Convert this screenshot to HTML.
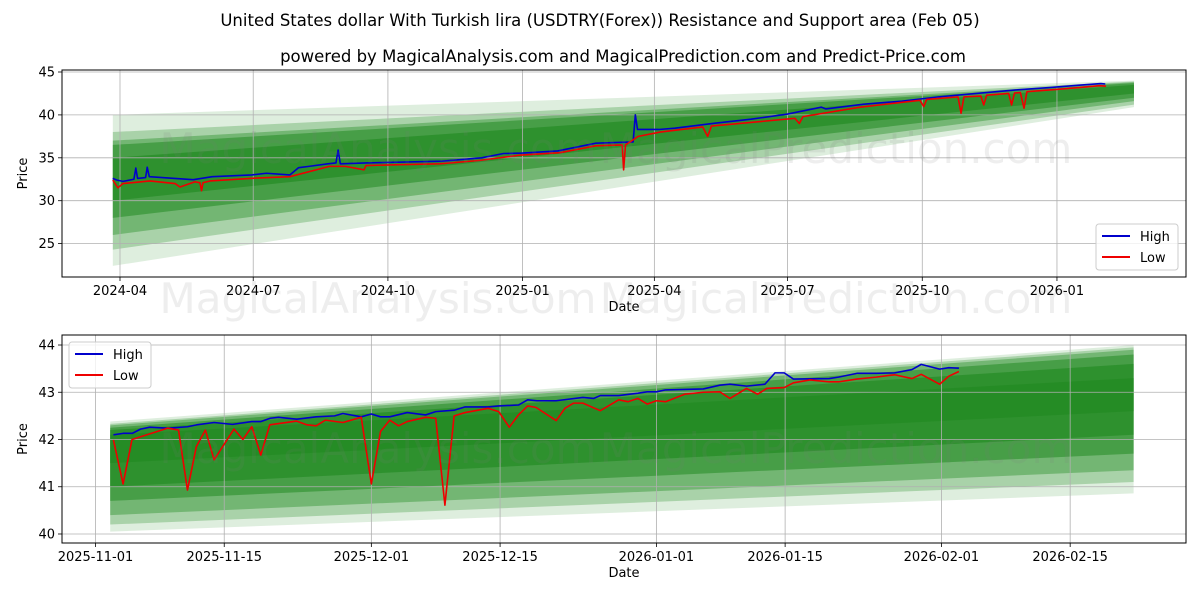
<!DOCTYPE html>
<html><head><meta charset="utf-8"><style>
body{margin:0;background:#fff;}
svg text{font-family:"DejaVu Sans","Liberation Sans",sans-serif;}
</style></head><body>
<svg id="chart" width="1200" height="600" viewBox="0 0 1200 600" xmlns="http://www.w3.org/2000/svg">
<rect width="1200" height="600" fill="#fff"/>
<text x="600" y="26" text-anchor="middle" font-size="16.5">United States dollar With Turkish lira (USDTRY(Forex)) Resistance and Support area (Feb 05)</text>
<text x="623" y="62" text-anchor="middle" font-size="16.5">powered by MagicalAnalysis.com and MagicalPrediction.com and Predict-Price.com</text>
<g id="top"></g><g id="bot"></g>
</svg>
<script>
// ---- top chart data (day offset from 2024-04-01) ----
const topXTickDays=[0,91,183,275,365,456,548,640];
const topXTickLabels=["2024-04","2024-07","2024-10","2025-01","2025-04","2025-07","2025-10","2026-01"];
const topYTicks=[25,30,35,40,45];
const topHighDays=[-5,-2,2,9.5,10.8,12,17.5,18.6,20,50,63,90,100,116,122,129,142,147.5,149,150.5,168,194,220,247,262,275,299,325,350.5,352,353.5,368,379,405,431,456,479,482,508,534,559,585,611,636,654,670,673];
const topHighVals=[32.6,32.4,32.25,32.5,33.8,32.6,32.7,33.9,32.8,32.45,32.8,33.0,33.2,33.0,33.85,34.0,34.3,34.4,35.9,34.3,34.4,34.5,34.6,35.0,35.5,35.55,35.8,36.7,36.85,40.0,38.3,38.3,38.45,39.0,39.5,40.1,40.9,40.7,41.25,41.6,42.1,42.5,42.9,43.2,43.45,43.65,43.6];
const topLowDays=[-4.9,-1.4,2,20.5,37.6,41,51,54.6,55.7,56.7,61.5,88.8,116,143,154,166.7,168,191,218.6,246,273,300.5,325,343,344,345.3,354,369,398,401.4,404,461,464,466.5,505.5,546.4,549,551,572.4,574.5,576.5,588,590,592,607,609,611,615,617.5,619.5,642,656,669,673.5];
const topLowVals=[32.4,31.5,32.0,32.3,32.0,31.6,32.2,32.1,31.16,32.1,32.3,32.6,32.8,34.0,34.0,33.6,34.1,34.2,34.3,34.7,35.3,35.6,36.4,36.5,33.6,36.5,37.5,38.0,38.6,37.5,38.7,39.6,39.0,39.8,40.9,41.7,40.97,41.8,42.1,40.2,42.1,42.2,41.16,42.3,42.5,41.16,42.55,42.6,40.78,42.7,43.0,43.2,43.4,43.35];
const topBandStartDay=-4.9, topBandEndDay=692.6;
const topBandTopStart=[40,38,37,36.5,35];
const topBandTopEnd=[44.0,43.9,43.8,43.7,43.5];
const topBandBotStart=[22.4,24.3,26,28,30];
const topBandBotEnd=[40.9,41.2,41.6,42.0,42.5];
const topBandAlpha=[0.15,0.28,0.4,0.55,0.65];
// ---- bottom chart data (day offset from 2025-11-01) ----
const botXTickDays=[0,14,30,44,61,75,92,106];
const botXTickLabels=["2025-11-01","2025-11-15","2025-12-01","2025-12-15","2026-01-01","2026-01-15","2026-02-01","2026-02-15"];
const botYTicks=[40,41,42,43,44];
const botHighDays=[1.95,3,4,4.9,5.9,7.9,10,11,12.9,14.9,17,18,19,19.9,21.9,24,26,26.9,28.9,30,31,32,33.9,35.9,37,39,40.2,42.7,43.85,46,47,48,50.1,53,54.2,54.9,56.9,59,60,61,62,66.1,67.9,69,70.8,72.8,73.9,74.9,75.9,79.8,80.8,82.8,84.9,86.9,88.8,89.8,91.8,92.8,93.9];
const botHighVals=[42.1,42.13,42.13,42.22,42.26,42.24,42.27,42.31,42.36,42.32,42.38,42.38,42.45,42.47,42.43,42.48,42.5,42.55,42.48,42.54,42.48,42.48,42.57,42.52,42.59,42.62,42.69,42.69,42.71,42.73,42.84,42.82,42.82,42.89,42.87,42.93,42.93,42.98,43.01,43.01,43.05,43.07,43.15,43.17,43.13,43.17,43.41,43.41,43.28,43.29,43.32,43.4,43.4,43.41,43.48,43.59,43.49,43.52,43.51];
const botLowDays=[1.95,3,3.97,7.86,9.03,10,10.97,11.95,12.9,15.06,16.03,17,17.98,18.95,21.87,23,24,25,26.9,28.9,30,31,32,32.96,33.9,35.9,37,38,39,40.2,42.7,43.85,45,46,47,47.9,50.1,51.05,52,53,54.9,56.9,57.9,59,60,61,62,64.1,66.1,67.9,69,70.8,72,73,74.9,75.9,77.7,79.8,80.8,82.8,84.9,86.9,88.8,89.8,91.8,92.8,93.9];
const botLowVals=[41.99,41.06,42.0,42.24,42.2,40.93,41.85,42.2,41.57,42.22,42.0,42.27,41.67,42.31,42.39,42.31,42.29,42.41,42.36,42.47,41.06,42.17,42.41,42.29,42.38,42.47,42.45,40.61,42.5,42.57,42.66,42.59,42.26,42.52,42.71,42.68,42.4,42.66,42.77,42.77,42.61,42.84,42.8,42.87,42.75,42.82,42.8,42.96,43.0,43.01,42.87,43.08,42.96,43.08,43.1,43.2,43.26,43.22,43.22,43.28,43.32,43.37,43.29,43.38,43.17,43.34,43.44];
const botBandStartDay=1.6, botBandEndDay=112.9;
const botBandTopStart=[42.38,42.33,42.3,42.25,42.2,42.1];
const botBandTopEnd=[44.0,43.95,43.9,43.8,43.6,43.3];
const botBandBotStart=[40.05,40.2,40.4,40.7,41.0,41.5];
const botBandBotEnd=[40.86,41.1,41.35,41.7,42.1,42.6];
const botBandAlpha=[0.15,0.28,0.4,0.55,0.65,0.72];

const NS="http://www.w3.org/2000/svg";
function mk(tag,attrs,parent){const e=document.createElementNS(NS,tag);for(const k in attrs)e.setAttribute(k,attrs[k]);parent.appendChild(e);return e;}

function drawPanel(g,cfg){
  const {L,R,T,B,x0px,pxPerDay,yMin,yMax}=cfg;
  const X=d=>x0px+d*pxPerDay;
  const Y=v=>B-(v-yMin)/(yMax-yMin)*(B-T);
  for(let i=0;i<cfg.bTS.length;i++){
    const p=mk('polygon',{points:`${X(cfg.bs)},${Y(cfg.bTS[i])} ${X(cfg.be)},${Y(cfg.bTE[i])} ${X(cfg.be)},${Y(cfg.bBE[i])} ${X(cfg.bs)},${Y(cfg.bBS[i])}`,fill:'rgb(34,139,34)','fill-opacity':cfg.bA[i]},g);
    
    
  }
  cfg.xt.forEach((d,i)=>{
    const l=mk('line',{x1:X(d),x2:X(d),y1:T,y2:B,stroke:'#b0b0b0','stroke-width':0.8},g);
    
    
    mk('line',{x1:X(d),x2:X(d),y1:B,y2:B+4,stroke:'#000','stroke-width':0.8},g);
    const t=mk('text',{x:X(d),y:B+18,'text-anchor':'middle','font-size':13},g);t.textContent=cfg.xl[i];
    
    
  });
  cfg.yt.forEach(v=>{
    const l=mk('line',{x1:L,x2:R,y1:Y(v),y2:Y(v),stroke:'#b0b0b0','stroke-width':0.8},g);
    
    
    mk('line',{x1:L-4,x2:L,y1:Y(v),y2:Y(v),stroke:'#000','stroke-width':0.8},g);
    const t=mk('text',{x:L-7,y:Y(v)+4.5,'text-anchor':'end','font-size':13},g);t.textContent=v;
    
    
  });
  const hp=mk('polyline',{points:cfg.hd.map((d,i)=>X(d)+','+Y(cfg.hv[i])).join(' '),fill:'none',stroke:'#0000cc','stroke-width':1.6,'stroke-linejoin':'round'},g);
  
  
  const lp=mk('polyline',{points:cfg.ld.map((d,i)=>X(d)+','+Y(cfg.lv[i])).join(' '),fill:'none',stroke:'#ee0000','stroke-width':1.6,'stroke-linejoin':'round'},g);
  
  
  cfg.wm.forEach(w=>{
    const t=mk('text',{x:w[1],y:w[2],'text-anchor':'middle','font-size':42,fill:'rgba(120,120,120,0.13)'},g);t.textContent=w[0];
    
    
  });
  const f=mk('rect',{x:L,y:T,width:R-L,height:B-T,fill:'none',stroke:'#000','stroke-width':1},g);
  
  
  const xl=mk('text',{x:(L+R)/2,y:B+34,'text-anchor':'middle','font-size':13},g);xl.textContent='Date';
  
  
  const yl=mk('text',{x:0,y:0,'text-anchor':'middle','font-size':13,transform:`translate(${cfg.ylx},${(T+B)/2}) rotate(-90)`},g);yl.textContent='Price';
  
  
  const lg=mk('g',{},g);
  
  
  const [lx,ly]=cfg.leg;
  mk('rect',{x:lx,y:ly,width:82,height:46,rx:3,fill:'rgba(255,255,255,0.8)',stroke:'#ccc'},lg);
  mk('line',{x1:lx+6,x2:lx+34,y1:ly+12,y2:ly+12,stroke:'#0000cc','stroke-width':2},lg);
  const t1=mk('text',{x:lx+44,y:ly+17,'font-size':13},lg);t1.textContent='High';
  
  
  mk('line',{x1:lx+6,x2:lx+34,y1:ly+33,y2:ly+33,stroke:'#ee0000','stroke-width':2},lg);
  const t2=mk('text',{x:lx+44,y:ly+38,'font-size':13},lg);t2.textContent='Low';
  
  
}
const gt=document.getElementById('top');


drawPanel(gt,{L:62,R:1186,T:70,B:277,x0px:120,pxPerDay:1.464,yMin:45-(277-72)/8.58,yMax:45+2/8.58,
  bs:topBandStartDay,be:topBandEndDay,bTS:topBandTopStart,bTE:topBandTopEnd,bBS:topBandBotStart,bBE:topBandBotEnd,bA:topBandAlpha,
  xt:topXTickDays,xl:topXTickLabels,yt:topYTicks,hd:topHighDays,hv:topHighVals,ld:topLowDays,lv:topLowVals,
  wm:[["MagicalAnalysis.com",378,163],["MagicalPrediction.com",836,163],["MagicalAnalysis.com",378,313],["MagicalPrediction.com",836,313]],ylx:27,leg:[1096,224]});
const gb=document.getElementById('bot');


drawPanel(gb,{L:62,R:1186,T:335,B:543,x0px:95.5,pxPerDay:9.195,yMin:40-(543-534)/47.2,yMax:44+(345-335)/47.2,
  bs:botBandStartDay,be:botBandEndDay,bTS:botBandTopStart,bTE:botBandTopEnd,bBS:botBandBotStart,bBE:botBandBotEnd,bA:botBandAlpha,
  xt:botXTickDays,xl:botXTickLabels,yt:botYTicks,hd:botHighDays,hv:botHighVals,ld:botLowDays,lv:botLowVals,
  wm:[["MagicalAnalysis.com",378,463],["MagicalPrediction.com",836,463]],ylx:27,leg:[69,342]});
</script>
</body></html>
